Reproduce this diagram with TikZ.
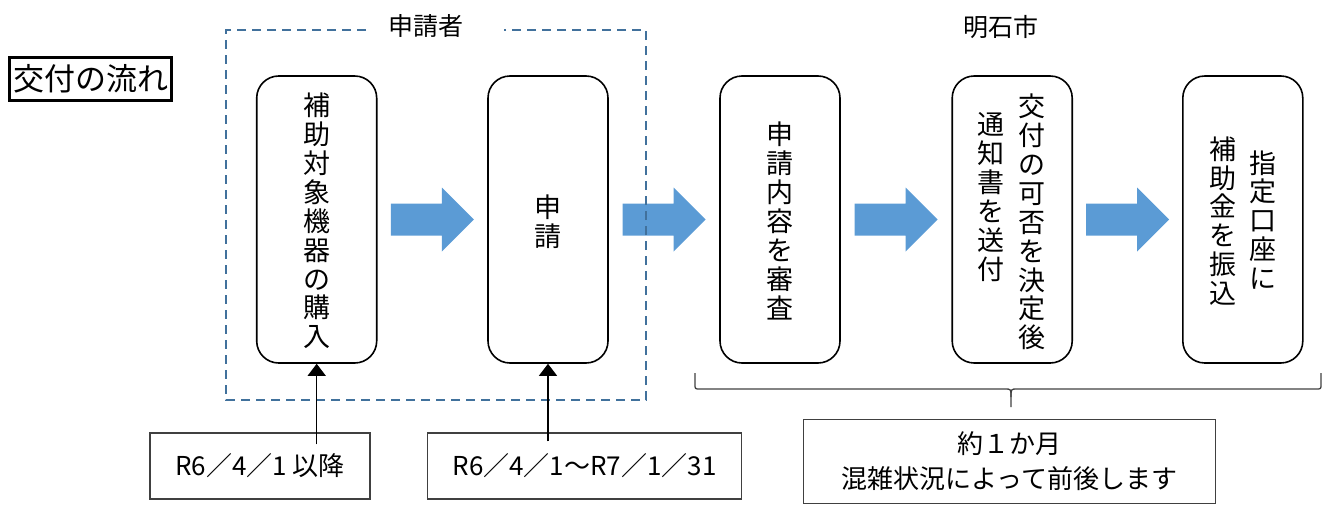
\documentclass[tikz,border=0pt]{standalone}
\usepackage{fontspec}
\setmainfont{Noto Sans CJK JP}
\usetikzlibrary{calc,arrows.meta}
\definecolor{arrowblue}{HTML}{5B9BD5}
\definecolor{groupblue}{HTML}{41719C}
\definecolor{darkline}{HTML}{404040}
\tikzset{
 flowbox/.style={draw=black, line width=1.6pt, rounded corners=22pt, minimum width=120pt, minimum height=287pt, inner sep=0pt},
 vtext/.style={align=center, inner sep=0pt, font=\fontsize{27}{28.9}\selectfont},
 grouplabel/.style={font=\fontsize{25}{28}\selectfont, inner sep=0pt},
 datebox/.style={draw=darkline, line width=1.2pt, minimum height=66pt, inner sep=0pt, font=\fontsize{26}{30}\selectfont},
 notebox/.style={draw=darkline, line width=1.2pt, inner sep=0pt, align=center, font=\fontsize{26}{35}\selectfont},
 bracestyle/.style={draw=darkline, line width=1.3pt},
 thinarrow/.style={draw=black, line width=1.3pt, -{Triangle[length=12pt,width=18pt]}},
 groupframe/.style={draw=groupblue, line width=1.8pt, dash pattern=on 9pt off 6pt},
 titlebox/.style={draw=black, line width=2.5pt, inner sep=0pt, minimum width=162pt, minimum height=43pt, font=\fontsize{31}{34}\selectfont},
}
\newcommand{\flowarrow}[1]{%
  \fill[arrowblue] ($(#1)+(-41.5,-16)$) -- ($(#1)+(9.5,-16)$) -- ($(#1)+(9.5,-32)$)
   -- ($(#1)+(41.5,0)$) -- ($(#1)+(9.5,32)$) -- ($(#1)+(9.5,16)$) -- ($(#1)+(-41.5,16)$) -- cycle;}
\begin{document}
\begin{tikzpicture}[x=1pt,y=-1pt]
\useasboundingbox (0,0) rectangle (1330,506);

% title
\node[titlebox] (title) at (90.5,79.2) {交付の流れ};

% flow boxes
\node[flowbox] (b1) at (316.7,219.5) {};
\node[flowbox] (b2) at (548,219.5) {};
\node[flowbox] (b3) at (780,219.5) {};
\node[flowbox] (b4) at (1012.2,219.5) {};
\node[flowbox] (b5) at (1242.8,219.5) {};

\node[vtext] (t1) at (316.7,221) {補\\助\\対\\象\\機\\器\\の\\購\\入};
\node[vtext] (t2) at (548,222) {申\\請};
\node[vtext] (t3) at (780,221) {申\\請\\内\\容\\を\\審\\査};
\node[vtext] (t4a) at (1031.5,222) {交\\付\\の\\可\\否\\を\\決\\定\\後};
\node[vtext] (t4b) at (990.5,197) {通\\知\\書\\を\\送\\付};
\node[vtext] (t5a) at (1263,220) {指\\定\\口\\座\\に};
\node[vtext] (t5b) at (1223,221) {補\\助\\金\\を\\振\\込};

% block arrows
\coordinate (m1) at ($(b1.east)!0.5!(b2.west)$);
\coordinate (m2) at ($(b2.east)!0.5!(b3.west)$);
\coordinate (m3) at ($(b3.east)!0.5!(b4.west)$);
\coordinate (m4) at ($(b4.east)!0.5!(b5.west)$);
\flowarrow{m1}
\flowarrow{m2}
\flowarrow{m3}
\flowarrow{m4}

% group frame
\draw[groupframe] (366,30) -- (226,30) -- (226,400) -- (646,400) -- (646,30) -- (504,30);
\node[grouplabel] (g1) at (426,26) {申請者};
\node[grouplabel] (g2) at (1001,27) {明石市};

% date boxes
\node[datebox, minimum width=220pt] (d1) at (260,466) {R6／4／1 以降};
\node[datebox, minimum width=314.4pt] (d2) at (584.5,466) {R6／4／1～R7／1／31};
\coordinate (s1) at ($(b1.south |- d1.north)+(0,12)$);
\coordinate (s2) at ($(b2.south |- d2.north)+(0,9)$);
\draw[thinarrow] (s1) -- (b1.south);
\draw[thinarrow] (s2) -- (b2.south);

% brace
\draw[bracestyle] (695,373) -- (695,384) .. controls (695,389) .. (700,389) -- (1005,389)
  .. controls (1011,389) .. (1011,397) -- (1011,407);
\draw[bracestyle] (1011,397) .. controls (1011,389) .. (1017,389) -- (1316,389)
  .. controls (1321,389) .. (1321,384) -- (1321,373);

% note box
\node[notebox, minimum width=412.4pt, minimum height=84pt] (n1) at (1009.5,461.3) {約１か月\\混雑状況によって前後します};
\end{tikzpicture}
\end{document}
